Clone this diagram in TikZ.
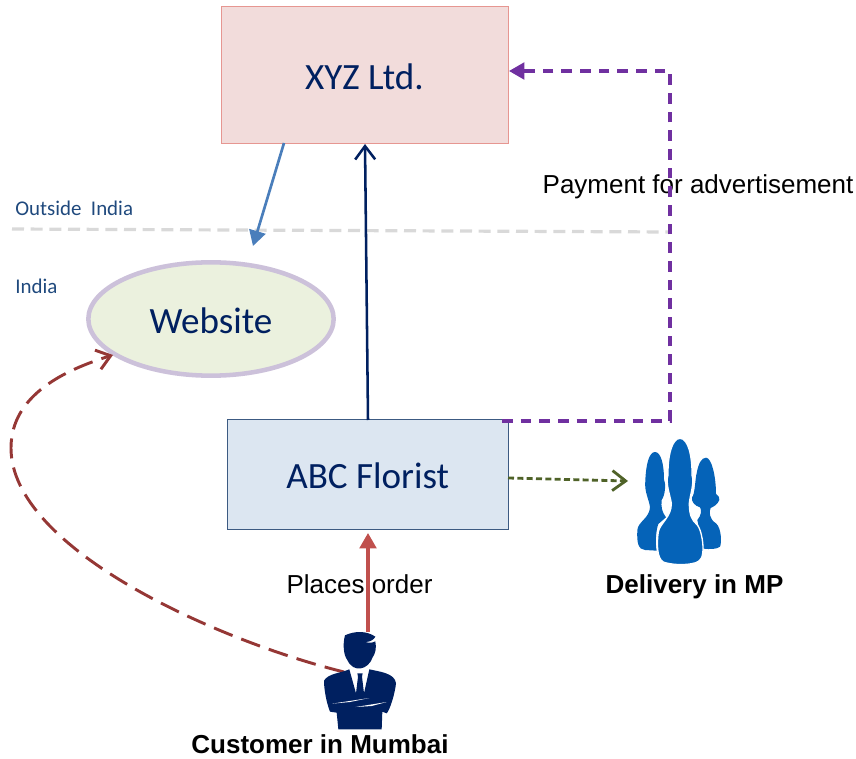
\documentclass[tikz,border=0pt]{standalone}
\usepackage{fontspec}
\setmainfont{Carlito}
\newfontfamily\arialfont{Liberation Sans}
\usepackage{tikz}
\usetikzlibrary{arrows.meta}
\usetikzlibrary{shapes.geometric}
\definecolor{navyblue}{HTML}{002060}
\definecolor{labelblue}{HTML}{1F497D}
\definecolor{iconblue}{HTML}{0563B8}
\definecolor{darkred}{HTML}{953735}
\definecolor{lightred}{HTML}{C0504D}
\definecolor{purpleline}{HTML}{7030A0}
\definecolor{oliveline}{HTML}{4F6228}
\definecolor{steelline}{HTML}{4A7EBB}
\newcommand{\lowertext}[1]{\raisebox{-1.5pt}[\height][\depth]{#1}}
\tikzset{
    boxtext/.style={text=navyblue,font=\fontsize{27.8}{32}\selectfont},
    zonetext/.style={text=labelblue,font=\fontsize{15.7}{18}\selectfont,inner sep=0pt,anchor=west},
    sidetext/.style={font=\arialfont\fontsize{19.5}{23}\selectfont,inner sep=0pt},
    boldtext/.style={font=\arialfont\bfseries\fontsize{19.5}{23}\selectfont,inner sep=0pt},
    solidtip/.style={-{Stealth[length=11.5pt,width=12.5pt,inset=0pt]}},
    opentip/.style={-{Straight Barb[length=10pt,width=15pt]}}
}
\begin{document}
\begin{tikzpicture}[x=0.75pt,y=-0.75pt]
    \useasboundingbox (0,0) rectangle (856,759);
    \node[boxtext,draw={rgb,255:red,230;green,150;blue,145},fill={rgb,255:red,242;green,220;blue,219},minimum width=215.3pt,minimum height=102.8pt,inner sep=0pt] (xyz) at (364.5,75) {\lowertext{XYZ Ltd.}};
    \node[boxtext,draw={rgb,255:red,60;green,90;blue,130},fill={rgb,255:red,220;green,230;blue,241},minimum width=210.6pt,minimum height=82.6pt,inner sep=0pt] (abc) at (367.7,474.2) {\lowertext{ABC Florist}};
    \node[boxtext,ellipse,draw={rgb,255:red,204;green,193;blue,218},line width=3.4pt,fill={rgb,255:red,235;green,241;blue,222},minimum width=184pt,minimum height=85pt,inner sep=0pt] (website) at (211,319) {\lowertext{Website}};

    \node[zonetext] (outside) at (15,208.5) {Outside\ \ India};
    \node[zonetext] (india) at (15,286.5) {India};
    \node[sidetext] (payment) at (698,186.5) {Payment for advertisement};
    \node[sidetext] (places) at (359.5,584) {Places order};
    \node[boldtext] (delivery) at (694.5,586.5) {Delivery in MP};
    \node[boldtext] (customer) at (320,744) {Customer in Mumbai};

    % free ends
    \coordinate (lineleft) at (12,229);
    \coordinate (lineright) at (670,232);
    \coordinate (bluetip) at (253,246);
    \coordinate (bluestart) at (284,143);
    \coordinate (navystart) at (368,420);
    \coordinate (navytip) at (365,144);
    \coordinate (purplestart) at (502,421);
    \coordinate (purplecorner) at (670,421);
    \coordinate (purpletop) at (670,71);
    \coordinate (purpletip) at (509,71);
    \coordinate (oliveend) at (628,481);
    \coordinate (olivestart) at (508,478);
    \coordinate (redstart) at (368,632);
    \coordinate (redtip) at (368,533);
    \coordinate (curvestart) at (344,672);
    \coordinate (curvetip) at (113,355);

    \draw[gray!30,line width=2.4pt,dash pattern=on 9pt off 5pt] (lineleft) -- (lineright);
    \draw[steelline,line width=2pt,solidtip] (bluestart) -- (bluetip);
    \draw[navyblue,line width=1.9pt,opentip] (navystart) -- (navytip);
    \draw[purpleline,line width=2.3pt,dash pattern=on 8pt off 6pt,solidtip] (purplestart) -- (purplecorner) -- (purpletop) -- (purpletip);
    \draw[oliveline,line width=2.1pt,dash pattern=on 4.5pt off 2.5pt,opentip] (olivestart) -- (oliveend);
    \draw[lightred,line width=2.3pt,solidtip] (redstart) -- (redtip);
    \draw[darkred,line width=2.2pt,dash pattern=on 15pt off 7pt,opentip] (curvestart) .. controls (215,640) and (11,548) .. (11,448) .. controls (11,395) and (65,370) .. (curvetip);

    % customer icon, in crop pixels
    \begin{scope}[shift={(300,610)},scale=1/3]
        \fill[navyblue] (135,76) .. controls (165,62) and (200,62) .. (226,80) .. controls (222,88) and (212,96) .. (196,96) .. controls (208,100) and (220,98) .. (226,94) .. controls (230,115) and (226,130) .. (218,142) .. controls (205,180) and (160,190) .. (142,150) .. controls (130,135) and (128,100) .. (135,76) -- cycle;
        \fill[navyblue] (148,178) -- (168,250) -- (174,200) -- (172,190) -- (188,190) -- (186,200) -- (192,250) -- (208,178) .. controls (240,185) and (285,190) .. (288,220) .. controls (285,250) and (270,300) .. (260,310) -- (247,305) -- (245,358) -- (115,358) -- (110,308) -- (90,305) .. controls (80,280) and (72,240) .. (72,212) .. controls (85,190) and (120,190) .. (148,178) -- cycle;
        \fill[white] (96,281) -- (208,264) -- (150,276) -- cycle;
        \fill[white] (167,291) -- (260,276) -- (215,288) -- cycle;
    \end{scope}

    % delivery icon, in crop pixels
    \begin{scope}[shift={(610,420)},scale=1/3]
        \fill[iconblue] (135,96) .. controls (152,96) and (162,130) .. (162,180) .. controls (168,190) and (166,225) .. (155,240) .. controls (153,260) and (155,275) .. (168,292) -- (145,312) .. controls (138,330) and (135,370) .. (140,392) -- (105,390) .. controls (85,388) and (80,370) .. (82,330) .. controls (84,305) and (118,295) .. (120,262) .. controls (118,240) and (102,215) .. (106,182) .. controls (108,130) and (118,96) .. (135,96) -- cycle;
        \fill[iconblue] (288,113) .. controls (305,113) and (318,170) .. (318,222) .. controls (326,228) and (330,234) .. (328,240) .. controls (322,255) and (310,260) .. (302,264) .. controls (296,275) and (298,298) .. (318,310) .. controls (335,325) and (335,370) .. (330,380) .. controls (320,388) and (300,388) .. (280,386) -- (262,300) .. controls (275,285) and (275,270) .. (270,262) .. controls (255,258) and (243,245) .. (246,232) .. controls (255,225) and (256,170) .. (260,160) .. controls (265,130) and (275,113) .. (288,113) -- cycle;
        \draw[fill=iconblue,draw=white,line width=1pt] (210,55) .. controls (235,55) and (247,110) .. (246,165) .. controls (254,190) and (240,225) .. (238,250) .. controls (238,285) and (245,300) .. (262,315) .. controls (275,330) and (282,380) .. (278,400) .. controls (275,425) and (260,428) .. (245,431) .. controls (220,436) and (180,434) .. (160,426) .. controls (140,415) and (140,370) .. (145,335) .. controls (150,310) and (185,290) .. (184,250) .. controls (180,225) and (166,190) .. (174,165) .. controls (173,110) and (185,55) .. (210,55) -- cycle;
    \end{scope}
\end{tikzpicture}
\end{document}
